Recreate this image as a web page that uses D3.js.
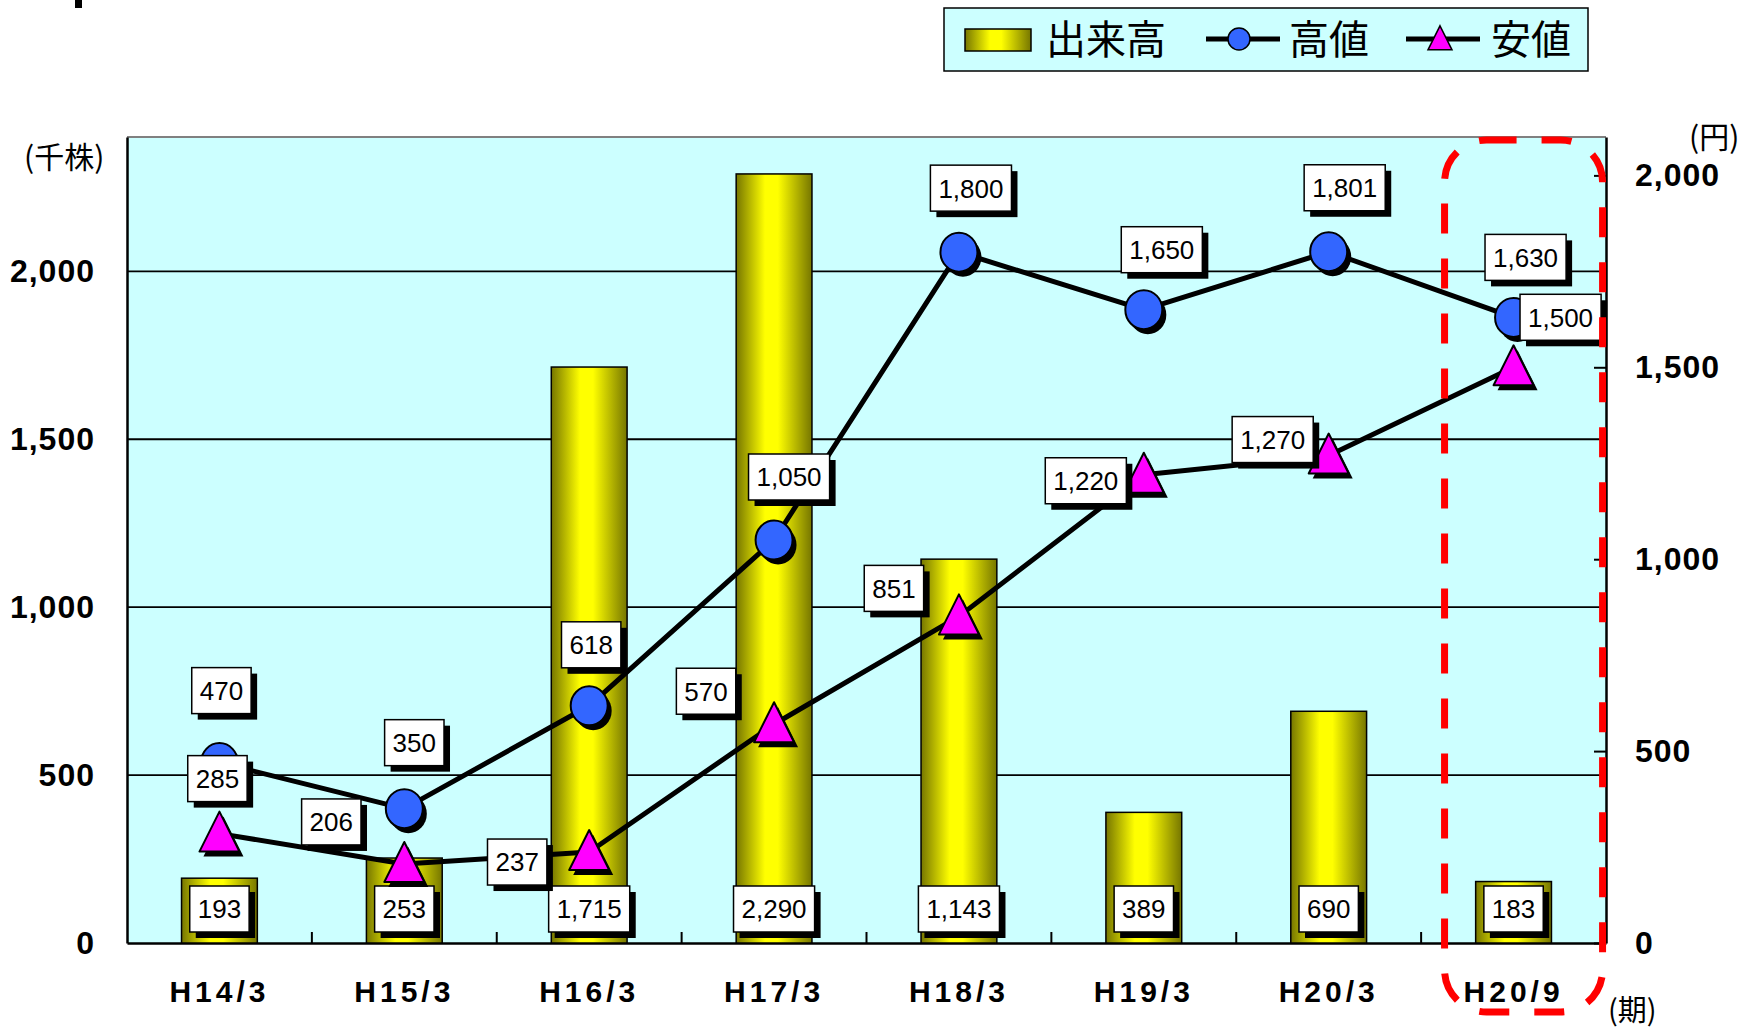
<!DOCTYPE html>
<html>
  <head>
    <meta charset="utf-8">
    <title>出来高・株価推移</title>
    <style>
      body { margin: 0; background: #fff; }
      text { font-family: "Liberation Sans", Arial, "Noto Sans CJK JP", sans-serif; }
      .jp { font-family: "Noto Sans CJK JP", sans-serif; }
    </style>
  </head>
  <body>
    <div id="chart"></div>
    <script src="https://cdn.jsdelivr.net/npm/d3@7"></script>
    <script>

        // data
        var categories = ['H14/3', 'H15/3', 'H16/3', 'H17/3', 'H18/3', 'H19/3', 'H20/3', 'H20/9'];
        var volume = [193, 253, 1715, 2290, 1143, 389, 690, 183];        // 出来高 (千株)
        var highPrice = [470, 350, 618, 1050, 1800, 1650, 1801, 1630];   // 高値 (円)
        var lowPrice = [285, 206, 237, 570, 851, 1220, 1270, 1500];      // 安値 (円)
        var leftTicks = [0, 500, 1000, 1500, 2000];
        var rightTicks = [0, 500, 1000, 1500, 2000];

        // where the price labels sit relative to their marker
        var lowLabelShift = [[-2, -55], [-73, -42], [-72, 10], [-68, -33],
                             [-65, -28], [-58, 6], [-56, -16], [47, -50]];
        var highLabelShift = [[2, -72], [10, -66], [2, -61], [15, -63],
                              [12, -64], [18, -60], [16, -64], [12, -60]];

        var width = 1760;
        var height = 1031;
        var plot = { left: 127, right: 1606, top: 137, bottom: 943 };

        var svg = d3.select('#chart')
          .append('svg')
          .attr('width', width)
          .attr('height', height);

        var defs = svg.append('defs');
        var grad = defs.append('linearGradient')
          .attr('id', 'barGrad')
          .attr('x1', '0%').attr('x2', '100%')
          .attr('y1', '0%').attr('y2', '0%');
        grad.append('stop').attr('offset', '0%').attr('stop-color', '#767600');
        grad.append('stop').attr('offset', '38%').attr('stop-color', '#ffff00');
        grad.append('stop').attr('offset', '55%').attr('stop-color', '#ffff00');
        grad.append('stop').attr('offset', '100%').attr('stop-color', '#767600');

        var x = d3.scaleBand()
          .domain(categories)
          .range([plot.left, plot.right])
          .paddingInner(0.59)
          .paddingOuter(0.295);
        var cx = function(c) { return x(c) + x.bandwidth() / 2; };

        var yL = d3.scaleLinear().domain([0, 2400]).range([plot.bottom, plot.top]);
        var yR = d3.scaleLinear().domain([0, 2100]).range([plot.bottom, plot.top]);

        // small cut-off mark at top left
        svg.append('rect').attr('x', 75).attr('y', 0).attr('width', 7).attr('height', 8).attr('fill', '#000');

        // plot background
        svg.append('rect')
          .attr('x', plot.left).attr('y', plot.top)
          .attr('width', plot.right - plot.left)
          .attr('height', plot.bottom - plot.top)
          .attr('fill', '#ccffff');
        svg.append('line')
          .attr('x1', plot.left).attr('x2', plot.right)
          .attr('y1', plot.top).attr('y2', plot.top)
          .attr('stroke', '#808080').attr('stroke-width', 2);

        // gridlines
        svg.append('g').selectAll('line')
          .data(leftTicks.filter(function(d) { return d > 0; }))
          .enter().append('line')
          .attr('x1', plot.left).attr('x2', plot.right)
          .attr('y1', function(d) { return yL(d); })
          .attr('y2', function(d) { return yL(d); })
          .attr('stroke', '#000').attr('stroke-width', 1.8);

        // axes
        var leftAxis = svg.append('g')
          .attr('transform', 'translate(' + plot.left + ',0)')
          .call(d3.axisLeft(yL).tickValues(leftTicks).tickSize(0).tickPadding(32).tickFormat(d3.format(',')));
        leftAxis.select('.domain').attr('stroke', '#000').attr('stroke-width', 2.5);
        leftAxis.selectAll('text').attr('font-size', 32).attr('font-weight', 'bold').attr('fill', '#000')
          .attr('letter-spacing', 1);

        var rightAxis = svg.append('g')
          .attr('transform', 'translate(' + plot.right + ',0)')
          .call(d3.axisRight(yR).tickValues(rightTicks).tickSizeInner(-12).tickSizeOuter(0).tickPadding(29).tickFormat(d3.format(',')));
        rightAxis.select('.domain').attr('stroke', '#000').attr('stroke-width', 2.5);
        rightAxis.selectAll('.tick line').attr('stroke', '#000').attr('stroke-width', 2);
        rightAxis.selectAll('text').attr('font-size', 32).attr('font-weight', 'bold').attr('fill', '#000')
          .attr('letter-spacing', 1);

        var bottomAxis = svg.append('g')
          .attr('transform', 'translate(0,' + plot.bottom + ')')
          .call(d3.axisBottom(x).tickSize(0).tickPadding(38));
        bottomAxis.select('.domain').attr('stroke', '#000').attr('stroke-width', 2.5);
        bottomAxis.selectAll('text')
          .attr('font-size', 30).attr('font-weight', 'bold').attr('fill', '#000')
          .attr('letter-spacing', 4);

        // category separators on the bottom axis
        svg.append('g').selectAll('line')
          .data(categories.slice(1))
          .enter().append('line')
          .attr('x1', function(d) { return x(d) - x.step() * x.paddingInner() / 2; })
          .attr('x2', function(d) { return x(d) - x.step() * x.paddingInner() / 2; })
          .attr('y1', plot.bottom).attr('y2', plot.bottom - 11)
          .attr('stroke', '#000').attr('stroke-width', 2);

        // bars
        svg.append('g').selectAll('rect')
          .data(volume)
          .enter().append('rect')
          .attr('x', function(d, i) { return x(categories[i]); })
          .attr('y', function(d) { return yL(d); })
          .attr('width', x.bandwidth())
          .attr('height', function(d) { return yL(0) - yL(d); })
          .attr('fill', 'url(#barGrad)')
          .attr('stroke', '#000').attr('stroke-width', 1.5);

        var fmt = d3.format(',');

        function boxLabel(layer, px, py, value) {
          var g = layer.append('g');
          var shadow = g.append('rect').attr('fill', '#000');
          var box = g.append('rect').attr('fill', '#fff').attr('stroke', '#000').attr('stroke-width', 1.5);
          var t = g.append('text')
            .attr('x', px).attr('y', py)
            .attr('dy', '0.36em')
            .attr('text-anchor', 'middle')
            .attr('font-size', 26)
            .attr('fill', '#000')
            .text(fmt(value));
          var w = t.node().getComputedTextLength() + 16;
          var h = 46;
          box.attr('x', px - w / 2).attr('y', py - h / 2).attr('width', w).attr('height', h);
          shadow.attr('x', px - w / 2 + 6).attr('y', py - h / 2 + 6).attr('width', w).attr('height', h);
        }

        var barLabels = svg.append('g');
        volume.forEach(function(d, i) {
          boxLabel(barLabels, cx(categories[i]), yL(0) - 34, d);
        });

        // lines
        var line = d3.line()
          .x(function(d, i) { return cx(categories[i]); })
          .y(function(d) { return yR(d); });

        svg.append('path').datum(highPrice)
          .attr('d', line).attr('fill', 'none')
          .attr('stroke', '#000').attr('stroke-width', 5).attr('stroke-linejoin', 'round');
        svg.append('path').datum(lowPrice)
          .attr('d', line).attr('fill', 'none')
          .attr('stroke', '#000').attr('stroke-width', 5).attr('stroke-linejoin', 'round');

        // markers
        function triPath(s) {
          return 'M0,' + (-s * 0.55) + 'L' + (s / 2) + ',' + (s * 0.45) + 'L' + (-s / 2) + ',' + (s * 0.45) + 'Z';
        }

        var highG = svg.append('g');
        highPrice.forEach(function(d, i) {
          var px = cx(categories[i]), py = yR(d);
          highG.append('ellipse').attr('cx', px + 4).attr('cy', py + 5).attr('rx', 18.5).attr('ry', 19.5).attr('fill', '#000');
          highG.append('ellipse').attr('cx', px).attr('cy', py).attr('rx', 18.5).attr('ry', 19.5)
            .attr('fill', '#3366ff').attr('stroke', '#000').attr('stroke-width', 2);
        });

        var lowG = svg.append('g');
        lowPrice.forEach(function(d, i) {
          var px = cx(categories[i]), py = yR(d);
          lowG.append('path').attr('d', triPath(40)).attr('transform', 'translate(' + (px + 4) + ',' + (py + 5) + ')').attr('fill', '#000');
          lowG.append('path').attr('d', triPath(40)).attr('transform', 'translate(' + px + ',' + py + ')')
            .attr('fill', '#ff00ff').attr('stroke', '#000').attr('stroke-width', 2).attr('stroke-linejoin', 'round');
        });

        // point labels
        var pointLabels = svg.append('g');
        lowPrice.forEach(function(d, i) {
          boxLabel(pointLabels, cx(categories[i]) + lowLabelShift[i][0], yR(d) + lowLabelShift[i][1], d);
        });
        highPrice.forEach(function(d, i) {
          boxLabel(pointLabels, cx(categories[i]) + highLabelShift[i][0], yR(d) + highLabelShift[i][1], d);
        });

        // red dashed highlight round the last period
        svg.append('rect')
          .attr('x', cx('H20/9') - 69)
          .attr('y', 140)
          .attr('width', 158)
          .attr('height', 872)
          .attr('rx', 42).attr('ry', 42)
          .attr('fill', 'none')
          .attr('stroke', '#ff0000')
          .attr('stroke-width', 7)
          .attr('stroke-dasharray', '30,25');

        // unit labels
        svg.append('text').attr('class', 'jp').attr('x', 24).attr('y', 157).attr('dy', '0.35em')
          .attr('font-size', 30).text('(千株)');
        svg.append('text').attr('class', 'jp').attr('x', 1689).attr('y', 137).attr('dy', '0.35em')
          .attr('font-size', 30).text('(円)');
        svg.append('text').attr('class', 'jp').attr('x', 1608).attr('y', 1011).attr('dy', '0.35em')
          .attr('font-size', 29).text('(期)');

        // legend
        var legend = svg.append('g');
        legend.append('rect')
          .attr('x', 944).attr('y', 8).attr('width', 644).attr('height', 63)
          .attr('fill', '#ccffff').attr('stroke', '#000').attr('stroke-width', 1.5);
        legend.append('rect')
          .attr('x', 965).attr('y', 29).attr('width', 66).attr('height', 22)
          .attr('fill', 'url(#barGrad)').attr('stroke', '#000').attr('stroke-width', 1.5);
        legend.append('text').attr('class', 'jp').attr('x', 1046).attr('y', 40).attr('dy', '0.36em')
          .attr('font-size', 40).text('出来高');

        legend.append('line').attr('x1', 1206).attr('x2', 1280).attr('y1', 39).attr('y2', 39)
          .attr('stroke', '#000').attr('stroke-width', 5);
        legend.append('circle').attr('cx', 1239).attr('cy', 39).attr('r', 11)
          .attr('fill', '#3366ff').attr('stroke', '#000').attr('stroke-width', 1.5);
        legend.append('text').attr('class', 'jp').attr('x', 1289).attr('y', 40).attr('dy', '0.36em')
          .attr('font-size', 40).text('高値');

        legend.append('line').attr('x1', 1406).attr('x2', 1480).attr('y1', 39).attr('y2', 39)
          .attr('stroke', '#000').attr('stroke-width', 5);
        legend.append('path').attr('d', triPath(24)).attr('transform', 'translate(1440,39)')
          .attr('fill', '#ff00ff').attr('stroke', '#000').attr('stroke-width', 1.5);
        legend.append('text').attr('class', 'jp').attr('x', 1491).attr('y', 40).attr('dy', '0.36em')
          .attr('font-size', 40).text('安値');

    </script>
  </body>
</html>
